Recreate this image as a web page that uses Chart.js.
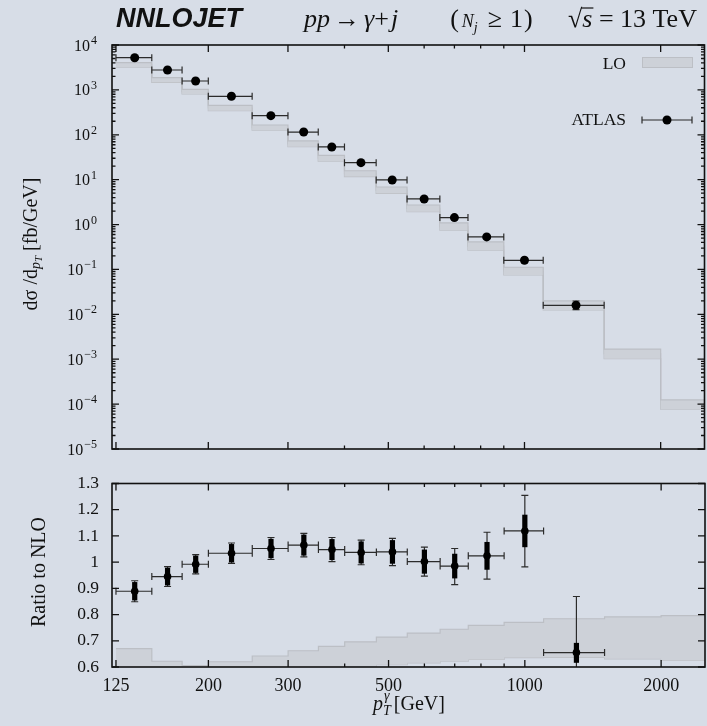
<!DOCTYPE html>
<html>
<head>
<meta charset="utf-8">
<script src="https://cdn.jsdelivr.net/npm/chart.js@4.4.1/dist/chart.umd.min.js"></script>
<style>
  html, body { margin: 0; padding: 0; background: #d7dde7; overflow: hidden; }
  #wrap { position: relative; width: 707px; height: 726px; overflow: hidden; background: #d7dde7; }
  canvas { position: absolute; left: 0; }
  #xsec { top: 0; }
  #ratio { top: 460px; }
</style>
</head>
<body>
<div id="wrap">
  <canvas id="xsec" width="709" height="460"></canvas>
  <canvas id="ratio" width="709" height="266"></canvas>
</div>
<script>
// photon transverse-momentum bins [GeV]
const binEdges = [125, 150, 175, 200, 250, 300, 350, 400, 470, 550, 650, 750, 900, 1100, 1500, 2000, 2500];

// ATLAS measurement, d sigma / d pT [fb/GeV]
const atlasXsec      = [5210, 2775, 1578, 720, 267, 115, 53.5, 23.9, 9.85, 3.72, 1.43, 0.53, 0.160, 0.0159];
const atlasXsecErrUp = [235, 111, 58, 27, 10.7, 4.8, 2.35, 1.08, 0.49, 0.20, 0.10, 0.047, 0.019, 0.0039];
const atlasXsecErrDn = [235, 111, 58, 27, 10.7, 4.8, 2.35, 1.08, 0.49, 0.20, 0.10, 0.047, 0.019, 0.0032];

// LO prediction with scale-variation band [fb/GeV]
const loUpper   = [4040, 1870, 1030, 454, 165, 72.8, 34.9, 15.8, 6.87, 2.73, 1.09, 0.41, 0.112, 0.0199, 1.67e-3, 1.24e-4];
const loCentral = [3590, 1661, 914, 395, 144, 62.9, 30.0, 13.6, 5.84, 2.30, 0.902, 0.331, 0.0918, 0.0158, 1.31e-3, 9.8e-5];
const loLower   = [3190, 1476, 811, 344, 126, 54.3, 25.7, 11.7, 4.97, 1.94, 0.746, 0.268, 0.0753, 0.0125, 1.03e-3, 7.7e-5];

// ratios to NLO
const atlasRatio   = [0.889, 0.945, 0.992, 1.034, 1.052, 1.065, 1.048, 1.037, 1.039, 1.002, 0.985, 1.024, 1.119, 0.655];
const ratioTotUp   = [0.040, 0.038, 0.037, 0.039, 0.042, 0.045, 0.046, 0.047, 0.052, 0.055, 0.067, 0.090, 0.136, 0.214];
const ratioTotDn   = [0.040, 0.038, 0.037, 0.039, 0.042, 0.045, 0.046, 0.047, 0.052, 0.055, 0.071, 0.089, 0.137, 0.214];
const ratioStatUp  = [0.035, 0.034, 0.033, 0.035, 0.037, 0.040, 0.040, 0.042, 0.045, 0.046, 0.047, 0.053, 0.062, 0.037];
const ratioStatDn  = [0.035, 0.034, 0.033, 0.035, 0.037, 0.040, 0.040, 0.042, 0.045, 0.046, 0.047, 0.053, 0.062, 0.039];
const loRatioUpper = [0.670, 0.622, 0.605, 0.620, 0.642, 0.662, 0.679, 0.696, 0.714, 0.729, 0.744, 0.759, 0.770, 0.784, 0.791, 0.796];
const loRatioLower = [0.560, 0.550, 0.550, 0.560, 0.570, 0.580, 0.590, 0.603, 0.609, 0.616, 0.622, 0.629, 0.636, 0.637, 0.631, 0.625];

// axis ticks
const xMajorTicks  = [125, 200, 300, 500, 1000, 2000];
const xMajorLabels = ['125', '200', '300', '500', '1000', '2000'];
const xMinorTicks  = [400, 600, 700, 800, 900];
const yXsecDecades = [-5, -4, -3, -2, -1, 0, 1, 2, 3, 4];
const yRatioTicks  = [0.6, 0.7, 0.8, 0.9, 1.0, 1.1, 1.2, 1.3];
const yRatioLabels = ['0.6', '0.7', '0.8', '0.9', '1', '1.1', '1.2', '1.3'];

const X_MIN = 122.5, X_MAX = 2500;
const SERIF = '"Liberation Serif", "DejaVu Serif", serif';
const INK = '#111111';
const ERR = '#2b2b2b';
const BAND_FILL = '#cdd1d8';
const BAND_LINE = '#bcbfc5';

const binCentres = atlasXsec.map((_, i) => 0.5 * (binEdges[i] + binEdges[i + 1]));

// histogram outline: one point per left bin edge plus the closing right edge
function stepPoints(values) {
  const pts = values.map((v, i) => ({ x: binEdges[i], y: v }));
  pts.push({ x: binEdges[values.length], y: values[values.length - 1] });
  return pts;
}

function xTickList() {
  return [...xMajorTicks, ...xMinorTicks].sort((a, b) => a - b).map(v => ({ value: v, major: xMajorTicks.includes(v) }));
}

function bandSet(values, fill, color) {
  return {
    type: 'line', data: stepPoints(values), stepped: 'before',
    borderColor: color || BAND_LINE, borderWidth: 1.2, pointRadius: 0,
    backgroundColor: BAND_FILL, fill: fill
  };
}

// rich text: runs of {t, font, dy, gap}
function drawRuns(ctx, x, y, runs) {
  for (const r of runs) {
    if (r.gap) x += r.gap;
    ctx.font = r.font;
    ctx.fillText(r.t, x, y + (r.dy || 0));
    x += ctx.measureText(r.t).width;
  }
  return x;
}
function runsWidth(ctx, runs) {
  let w = 0;
  for (const r of runs) { if (r.gap) w += r.gap; ctx.font = r.font; w += ctx.measureText(r.t).width; }
  return w;
}

// frame with inward tick marks on all four sides
function drawFrame(chart, yMajors, yMinors) {
  const { ctx, chartArea: a, scales: { x, y } } = chart;
  ctx.save();
  ctx.strokeStyle = INK;
  ctx.lineWidth = 1.3;
  ctx.beginPath();
  const tick = (px, py, dx, dy) => { ctx.moveTo(px, py); ctx.lineTo(px + dx, py + dy); };
  for (const v of xMajorTicks) { const p = x.getPixelForValue(v); tick(p, a.bottom, 0, -7); tick(p, a.top, 0, 7); }
  for (const v of xMinorTicks) { const p = x.getPixelForValue(v); tick(p, a.bottom, 0, -3.5); tick(p, a.top, 0, 3.5); }
  for (const v of yMajors) { const p = y.getPixelForValue(v); tick(a.left, p, 7, 0); tick(a.right, p, -7, 0); }
  for (const v of yMinors) { const p = y.getPixelForValue(v); tick(a.left, p, 3.5, 0); tick(a.right, p, -3.5, 0); }
  ctx.stroke();
  ctx.lineWidth = 1.6;
  ctx.strokeRect(a.left, a.top, a.right - a.left, a.bottom - a.top);
  ctx.restore();
}

function xBar(ctx, x0, x1, py, cap) {
  ctx.moveTo(x0, py); ctx.lineTo(x1, py);
  ctx.moveTo(x0, py - cap); ctx.lineTo(x0, py + cap);
  ctx.moveTo(x1, py - cap); ctx.lineTo(x1, py + cap);
}
function yBar(ctx, px, y0, y1, cap) {
  ctx.moveTo(px, y0); ctx.lineTo(px, y1);
  ctx.moveTo(px - cap, y0); ctx.lineTo(px + cap, y0);
  ctx.moveTo(px - cap, y1); ctx.lineTo(px + cap, y1);
}

const xsecMinor = [];
for (const d of yXsecDecades) if (d < 4) for (let m = 2; m <= 9; m++) xsecMinor.push(m * Math.pow(10, d));
const xsecMajor = yXsecDecades.map(d => Math.pow(10, d));

const xsecPlugin = {
  id: 'xsecDecor',
  beforeDatasetDraw(chart, args) {
    if (args.index !== 0) return;
    const { ctx, chartArea: a, scales: { x, y } } = chart;
    ctx.save();
    ctx.beginPath(); ctx.rect(a.left, a.top, a.right - a.left, a.bottom - a.top); ctx.clip();
    ctx.strokeStyle = ERR; ctx.lineWidth = 1.2;
    ctx.beginPath();
    atlasXsec.forEach((v, i) => {
      const py = y.getPixelForValue(v);
      xBar(ctx, x.getPixelForValue(binEdges[i]), x.getPixelForValue(binEdges[i + 1]), py, 3.5);
      yBar(ctx, x.getPixelForValue(binCentres[i]), y.getPixelForValue(v + atlasXsecErrUp[i]), y.getPixelForValue(v - atlasXsecErrDn[i]), 3.5);
    });
    ctx.stroke();
    ctx.restore();
  },
  afterDatasetsDraw(chart) {
    drawFrame(chart, xsecMajor, xsecMinor);
  },
  afterDraw(chart) {
    const { ctx, scales: { y } } = chart;
    ctx.save();
    ctx.fillStyle = INK;
    ctx.textBaseline = 'alphabetic';
    // decade labels 10^n
    for (const d of yXsecDecades) {
      const py = y.getPixelForValue(Math.pow(10, d));
      const exp = d < 0 ? '\u2212' + (-d) : String(d);
      ctx.font = '12px ' + SERIF; const we = ctx.measureText(exp).width;
      ctx.font = '16px ' + SERIF; const wb = ctx.measureText('10').width;
      const right = 97;
      ctx.font = '16px ' + SERIF; ctx.fillText('10', right - we - wb - 1, py + 5.5);
      ctx.font = '12px ' + SERIF; ctx.fillText(exp, right - we, py - 1);
    }
    // y title
    const yRuns = [
      { t: 'd\u03c3', font: '20px ' + SERIF },
      { t: ' /d', font: '20px ' + SERIF },
      { t: 'p', font: 'italic 14px ' + SERIF, dy: 3 },
      { t: 'T', font: 'italic 11px ' + SERIF, dy: 5 },
      { t: ' [fb/GeV]', font: '20px ' + SERIF }
    ];
    ctx.save();
    ctx.translate(37, 244);
    ctx.rotate(-Math.PI / 2);
    drawRuns(ctx, -runsWidth(ctx, yRuns) / 2, 0, yRuns);
    ctx.restore();

    // title line
    ctx.font = 'italic bold 27px "Liberation Sans", Arial, sans-serif';
    ctx.fillText('NNLOJET', 116, 27);
    const big = '26px ' + SERIF, bigI = 'italic 26px ' + SERIF;
    drawRuns(ctx, 304, 27, [
      { t: 'pp', font: bigI },
      { t: '\u2192', font: big, gap: 4 },
      { t: '\u03b3', font: bigI, gap: 4 },
      { t: '+', font: big },
      { t: 'j', font: bigI, gap: 2 },
      { t: '(', font: big, gap: 52 },
      { t: 'N', font: 'italic 18px ' + SERIF, gap: 3 },
      { t: 'j', font: 'italic 14px ' + SERIF, dy: 5 },
      { t: '\u2265', font: big, gap: 10 },
      { t: '1', font: big, gap: 8 },
      { t: ')', font: big, gap: 1 }
    ]);
    // sqrt(s) = 13 TeV
    ctx.font = big;
    const rx = 568;
    ctx.fillText('\u221a', rx, 27);
    const rw = ctx.measureText('\u221a').width;
    ctx.font = bigI;
    ctx.fillText('s', rx + rw, 27);
    const sw = ctx.measureText('s').width;
    ctx.strokeStyle = INK; ctx.lineWidth = 1.2;
    ctx.beginPath(); ctx.moveTo(rx + rw - 1, 8); ctx.lineTo(rx + rw + sw + 1, 8); ctx.stroke();
    ctx.font = big;
    ctx.fillText(' = 13 TeV', rx + rw + sw, 27);

    // legend
    ctx.font = '17.5px ' + SERIF;
    ctx.textAlign = 'right';
    ctx.textBaseline = 'middle';
    ctx.fillText('LO', 626, 64);
    ctx.fillText('ATLAS', 626, 120);
    ctx.fillStyle = BAND_FILL; ctx.strokeStyle = BAND_LINE; ctx.lineWidth = 1;
    ctx.fillRect(642, 57, 50, 10); ctx.strokeRect(642.5, 57.5, 50, 10);
    ctx.strokeStyle = ERR; ctx.lineWidth = 1.2;
    ctx.beginPath(); xBar(ctx, 642, 692, 120, 3.5); ctx.stroke();
    ctx.fillStyle = '#000';
    ctx.beginPath(); ctx.arc(667, 120, 4.5, 0, Math.PI * 2); ctx.fill();
    ctx.restore();
  }
};

const ratioPlugin = {
  id: 'ratioDecor',
  beforeDatasetDraw(chart, args) {
    if (args.index !== 0) return;
    const { ctx, chartArea: a, scales: { x, y } } = chart;
    ctx.save();
    ctx.beginPath(); ctx.rect(a.left, a.top, a.right - a.left, a.bottom - a.top); ctx.clip();
    ctx.strokeStyle = ERR; ctx.lineWidth = 1.2;
    ctx.beginPath();
    atlasRatio.forEach((v, i) => {
      const py = y.getPixelForValue(v);
      const px = x.getPixelForValue(binCentres[i]);
      xBar(ctx, x.getPixelForValue(binEdges[i]), x.getPixelForValue(binEdges[i + 1]), py, 3.5);
      yBar(ctx, px, y.getPixelForValue(v + ratioTotUp[i]), y.getPixelForValue(v - ratioTotDn[i]), 3.5);
    });
    ctx.stroke();
    ctx.fillStyle = '#000';
    atlasRatio.forEach((v, i) => {
      const px = x.getPixelForValue(binCentres[i]);
      const yt = y.getPixelForValue(v + ratioStatUp[i]);
      const yb = y.getPixelForValue(v - ratioStatDn[i]);
      ctx.fillRect(px - 2.6, yt, 5.2, yb - yt);
    });
    ctx.restore();
  },
  afterDatasetsDraw(chart) {
    drawFrame(chart, yRatioTicks, []);
  },
  afterDraw(chart) {
    const { ctx } = chart;
    ctx.save();
    ctx.fillStyle = INK;
    ctx.textBaseline = 'alphabetic';
    // y title
    ctx.font = '20px ' + SERIF;
    ctx.save();
    ctx.translate(45, 112);
    ctx.rotate(-Math.PI / 2);
    ctx.textAlign = 'center';
    ctx.fillText('Ratio to NLO', 0, 0);
    ctx.restore();
    // x title
    const x0 = 373, base = 250;
    ctx.font = 'italic 20px ' + SERIF;
    ctx.fillText('p', x0, base);
    const pw = ctx.measureText('p').width;
    ctx.font = 'italic 14px ' + SERIF;
    ctx.fillText('\u03b3', x0 + pw + 1, base - 10);
    const gw = ctx.measureText('\u03b3').width;
    ctx.fillText('T', x0 + pw, base + 5);
    const tw = ctx.measureText('T').width;
    ctx.font = '20px ' + SERIF;
    ctx.fillText('[GeV]', x0 + pw + Math.max(gw + 1, tw) + 3, base);
    ctx.restore();
  }
};

Chart.defaults.animation = false;
Chart.defaults.events = [];

new Chart(document.getElementById('xsec'), {
  type: 'line',
  data: {
    datasets: [
      {
        type: 'scatter', label: 'ATLAS',
        data: atlasXsec.map((v, i) => ({ x: binCentres[i], y: v })),
        pointRadius: 4.5, pointBackgroundColor: '#000', pointBorderColor: '#000', pointBorderWidth: 0, showLine: false
      },
      bandSet(loUpper, '+1'),
      bandSet(loLower, false),
      bandSet(loCentral, false, '#c3c6cb')
    ]
  },
  options: {
    responsive: false,
    devicePixelRatio: 1,
    layout: { padding: { top: 45, left: 0, right: 0, bottom: 0 } },
    plugins: { legend: { display: false }, tooltip: { enabled: false } },
    scales: {
      x: {
        type: 'logarithmic', position: 'bottom', min: X_MIN, max: X_MAX,
        grid: { display: false, drawTicks: false }, border: { display: false },
        ticks: { display: false },
        afterBuildTicks: s => { s.ticks = xTickList(); },
        afterFit: s => { s.height = 11; }
      },
      y: {
        type: 'logarithmic', position: 'left', min: 1e-5, max: 1e4,
        grid: { display: false, drawTicks: false }, border: { display: false },
        ticks: { display: false },
        afterFit: s => { s.width = 112; }
      }
    }
  },
  plugins: [xsecPlugin]
});

new Chart(document.getElementById('ratio'), {
  type: 'line',
  data: {
    datasets: [
      {
        type: 'scatter', label: 'ATLAS',
        data: atlasRatio.map((v, i) => ({ x: binCentres[i], y: v })),
        pointRadius: 3.8, pointBackgroundColor: '#000', pointBorderColor: '#000', pointBorderWidth: 0, showLine: false
      },
      bandSet(loRatioUpper, '+1'),
      bandSet(loRatioLower, false)
    ]
  },
  options: {
    responsive: false,
    devicePixelRatio: 1,
    layout: { padding: { top: 19, left: 0, right: 0, bottom: 0 } },
    plugins: { legend: { display: false }, tooltip: { enabled: false } },
    scales: {
      x: {
        type: 'logarithmic', position: 'bottom', min: X_MIN, max: X_MAX,
        grid: { display: false, drawTicks: false }, border: { display: false },
        ticks: {
          autoSkip: false, maxRotation: 0, padding: 8, color: INK,
          font: { family: SERIF, size: 18 },
          callback: (value, index, ticks) => {
            const k = xMajorTicks.indexOf(ticks[index].value);
            return k >= 0 ? xMajorLabels[k] : '';
          }
        },
        afterBuildTicks: s => { s.ticks = xTickList(); },
        afterFit: s => { s.height = 59; }
      },
      y: {
        type: 'linear', position: 'left', min: 0.6, max: 1.3,
        grid: { display: false, drawTicks: false }, border: { display: false },
        ticks: {
          autoSkip: false, padding: 13, color: INK,
          font: { family: SERIF, size: 17.5 },
          callback: (value, index) => yRatioLabels[index]
        },
        afterBuildTicks: s => { s.ticks = yRatioTicks.map(v => ({ value: v })); },
        afterFit: s => { s.width = 112; }
      }
    }
  },
  plugins: [ratioPlugin]
});
</script>
</body>
</html>
